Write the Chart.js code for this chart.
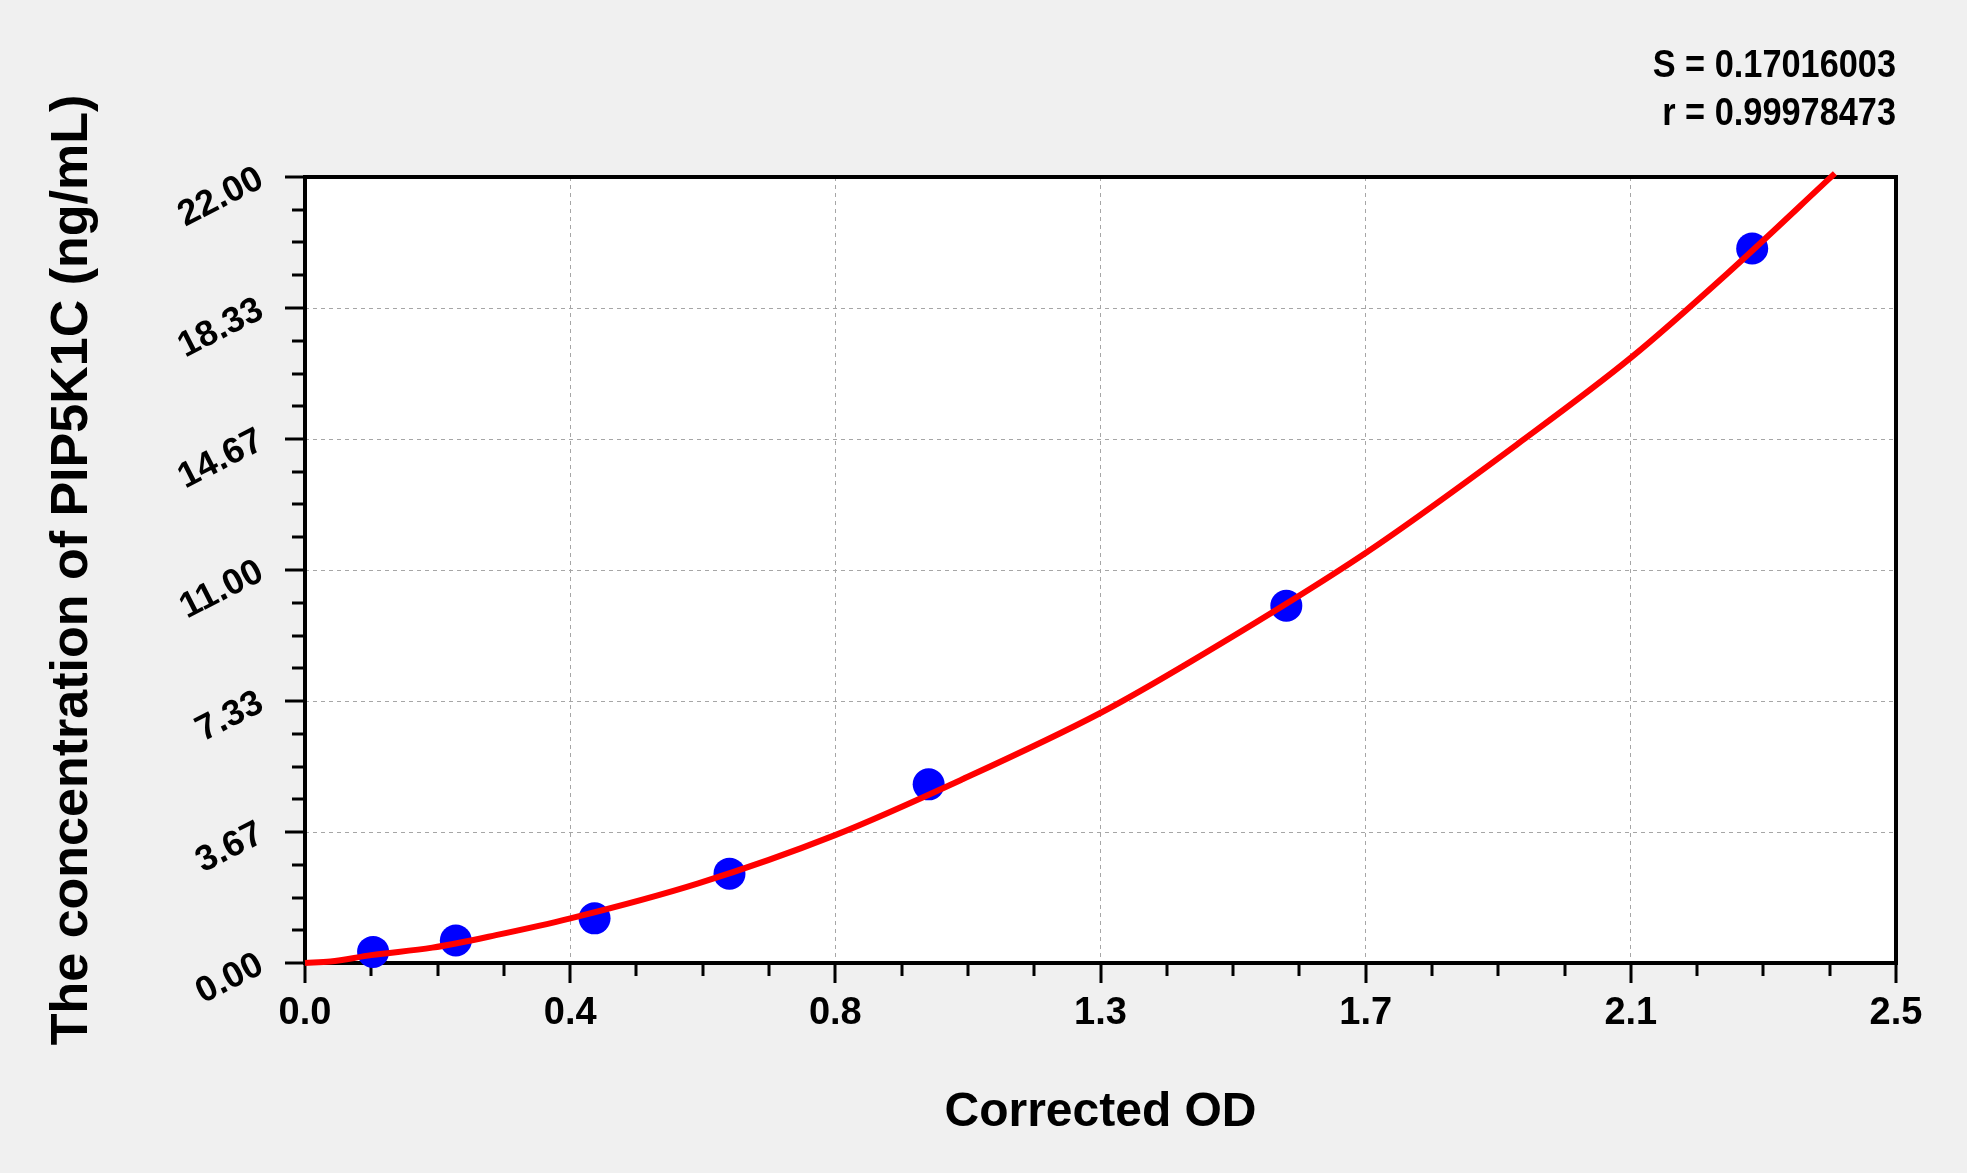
<!DOCTYPE html>
<html>
<head>
<meta charset="utf-8">
<title>PIP5K1C standard curve</title>
<script src="https://cdn.jsdelivr.net/npm/chart.js@4.4.0/dist/chart.umd.min.js"></script>
<style>
    html, body { margin: 0; padding: 0; background: #f0f0f0; }
    canvas { display: block; }
</style>
</head>
<body>
<canvas id="curve-chart" width="1967" height="1173"></canvas>
<script>
// standards
const odValues = [0.107, 0.237, 0.455, 0.667, 0.980, 1.542, 2.274];
const concValues = [0.31, 0.63, 1.25, 2.5, 5, 10, 20];

// fitted curve, sampled along the red line
const fitOd = [0, 0.04, 0.104, 0.2, 0.3, 0.417, 0.618, 0.833, 1.034, 1.249, 1.393, 1.666, 1.914, 2.084, 2.235, 2.404];
const fitConc = [0, 0.04, 0.22, 0.43, 0.78, 1.25, 2.23, 3.58, 5.15, 6.99, 8.45, 11.47, 14.64, 16.95, 19.30, 22.10];

const xTickLabels = ["0.0", "0.4", "0.8", "1.3", "1.7", "2.1", "2.5"];
const yTickLabels = ["0.00", "3.67", "7.33", "11.00", "14.67", "18.33", "22.00"];
const X_MAX = 2.5;
const Y_MAX = 22;
const MINOR_STEPS = 4;

const statLines = ["S = 0.17016003", "r = 0.99978473"];

const FONT = "'Liberation Sans', Arial, sans-serif";

function evenTicks(labels, max) {
    return labels.map((_, i) => ({ value: (i * max) / (labels.length - 1) }));
}

const plotDecor = {
    id: "plotDecor",
    beforeDraw(chart) {
        const { ctx, chartArea: a } = chart;
        ctx.save();
        ctx.fillStyle = "#ffffff";
        ctx.fillRect(a.left, a.top, a.right - a.left, a.bottom - a.top);
        ctx.restore();
    },
    beforeDatasetsDraw(chart) {
        const { ctx, chartArea: a, scales } = chart;
        const xCount = (xTickLabels.length - 1) * MINOR_STEPS;
        const yCount = (yTickLabels.length - 1) * MINOR_STEPS;

        ctx.save();
        ctx.strokeStyle = "#000000";
        ctx.lineWidth = 3;
        ctx.beginPath();
        for (let i = 0; i <= xCount; i++) {
            const px = Math.round(scales.x.getPixelForValue((i * X_MAX) / xCount));
            const len = i % MINOR_STEPS === 0 ? 20 : 13;
            ctx.moveTo(px, a.bottom);
            ctx.lineTo(px, a.bottom + len);
        }
        for (let i = 0; i <= yCount; i++) {
            const py = Math.round(scales.y.getPixelForValue((i * Y_MAX) / yCount));
            const len = i % MINOR_STEPS === 0 ? 20 : 13;
            ctx.moveTo(a.left, py);
            ctx.lineTo(a.left - len, py);
        }
        ctx.stroke();

        ctx.lineWidth = 4;
        ctx.strokeRect(a.left, a.top, a.right - a.left, a.bottom - a.top);
        ctx.restore();
    },
    afterDraw(chart) {
        const { ctx, chartArea: a } = chart;
        ctx.save();
        ctx.fillStyle = "#000000";
        ctx.font = `bold 39px ${FONT}`;
        ctx.textAlign = "right";
        ctx.textBaseline = "middle";
        statLines.forEach((text, i) => {
            ctx.save();
            ctx.translate(a.right, 66 + i * 48);
            ctx.scale(0.88, 1);
            ctx.fillText(text, 0, 0);
            ctx.restore();
        });
        ctx.restore();
    }
};

const chartCanvas = document.getElementById("curve-chart");

new Chart(chartCanvas.getContext("2d"), {
    type: "scatter",
    data: {
        datasets: [
            {
                label: "Fit",
                data: fitOd.map((x, i) => ({ x, y: fitConc[i] })),
                showLine: true,
                borderColor: "#ff0000",
                borderWidth: 6,
                pointRadius: 0,
                cubicInterpolationMode: "monotone",
                clip: false,
                order: 0
            },
            {
                label: "Standards",
                data: odValues.map((x, i) => ({ x, y: concValues[i] })),
                backgroundColor: "#0000ff",
                borderWidth: 0,
                pointRadius: 16,
                clip: false,
                order: 1
            }
        ]
    },
    options: {
        responsive: false,
        devicePixelRatio: 1,
        animation: false,
        layout: {
            padding: { top: 177, right: 71, bottom: 0, left: 0 }
        },
        plugins: {
            legend: { display: false },
            tooltip: { enabled: false }
        },
        scales: {
            x: {
                type: "linear",
                min: 0,
                max: X_MAX,
                afterBuildTicks(scale) {
                    scale.ticks = evenTicks(xTickLabels, X_MAX);
                },
                afterFit(scale) {
                    scale.height = 210;
                },
                grid: { color: "#a6a6a6", lineWidth: 1, drawTicks: false },
                border: { display: false, dash: [4, 4] },
                ticks: {
                    callback: (value, index) => xTickLabels[index],
                    color: "#000000",
                    font: { family: FONT, size: 38, weight: "bold" },
                    padding: 28,
                    maxRotation: 0,
                    autoSkip: false
                },
                title: {
                    display: true,
                    text: "Corrected OD",
                    color: "#000000",
                    font: { family: FONT, size: 48, weight: "bold" },
                    padding: { top: 0, bottom: 31 }
                }
            },
            y: {
                type: "linear",
                min: 0,
                max: Y_MAX,
                afterBuildTicks(scale) {
                    scale.ticks = evenTicks(yTickLabels, Y_MAX);
                },
                afterFit(scale) {
                    scale.width = 305;
                },
                grid: { color: "#a6a6a6", lineWidth: 1, drawTicks: false },
                border: { display: false, dash: [4, 4] },
                ticks: {
                    callback: (value, index) => yTickLabels[index],
                    color: "#000000",
                    font: { family: FONT, size: 36, weight: "bold" },
                    padding: 44,
                    minRotation: 27,
                    maxRotation: 27,
                    autoSkip: false
                },
                title: {
                    display: true,
                    text: "The concentration of PIP5K1C (ng/mL)",
                    color: "#000000",
                    font: { family: FONT, size: 52, weight: "bold" },
                    padding: { top: 41, bottom: 0 }
                }
            }
        }
    },
    plugins: [plotDecor]
});
</script>
</body>
</html>
